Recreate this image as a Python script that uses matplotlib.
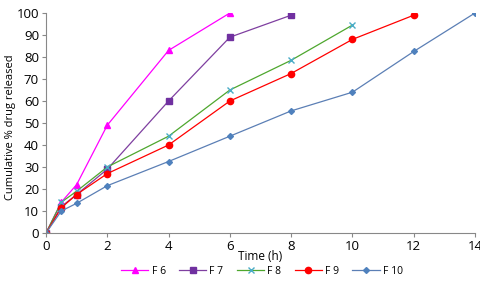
import matplotlib
matplotlib.use('Agg')
import matplotlib.pyplot as plt

plt.rcParams['font.family'] = ['Open Sans', 'DejaVu Sans']

time = [0, 0.5, 1, 2, 4, 6, 8, 10, 12, 14]
f6 = [0, 14, 22, 49, 83, 100]
f7 = [0, 12, 17.5, 29, 60, 89, 99]
f8 = [0, 14, 19, 30, 44, 65, 78.5, 94.5]
f9 = [0, 11.5, 17.5, 27, 40, 60, 72.5, 88, 99]
f10 = [0, 10, 13.5, 21.5, 32.5, 44, 55.5, 64, 82.5, 100]

series = [
    ('F 6', f6, '#FF00FF', '#FF00FF', '^', 4.5),
    ('F 7', f7, '#7F3FA0', '#7030A0', 's', 4),
    ('F 8', f8, '#4EA72E', '#4BACC6', 'x', 4),
    ('F 9', f9, '#FF0000', '#FF0000', 'o', 4.5),
    ('F 10', f10, '#5B7FB5', '#4F81BD', 'D', 3),
]

W, H = 481, 289
fig = plt.figure(figsize=(W / 100, H / 100), dpi=100)
ax = fig.add_axes([46 / W, 1 - 233 / H, 429 / W, 220 / H])

for name, vals, lc, mc, mk, ms in series:
    ax.plot(time[:len(vals)], vals, color=lc, lw=0.9, marker=mk, markersize=ms,
            markerfacecolor=mc, markeredgecolor=mc, markeredgewidth=1.0, label=name)

ax.set_xlim(0, 14)
ax.set_ylim(0, 100)
ax.set_xticks(range(0, 15, 2))
ax.set_yticks(range(0, 101, 10))
ax.tick_params(labelsize=9.5, length=3, color='#888888', pad=2)
for s in ['top', 'right']:
    ax.spines[s].set_visible(False)
for s in ['left', 'bottom']:
    ax.spines[s].set_color('#888888')

fig.text(260 / W, 1 - 257 / H, 'Time (h)', fontsize=8.5, ha='center', va='center')
fig.text(11 / W, 1 - 127 / H, 'Cumulative % drug released', fontsize=8,
         rotation=90, ha='center', va='center')

fig.legend(loc='center', ncol=5, frameon=False, fontsize=7.5,
           bbox_to_anchor=(262 / W, 1 - 271 / H), handlelength=2.6,
           columnspacing=1.3, handletextpad=0.3)

fig.savefig('out.png', dpi=100)
